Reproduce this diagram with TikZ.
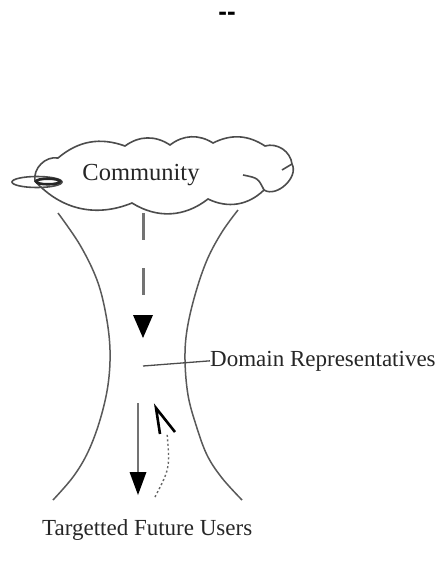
\documentclass[tikz,border=0pt]{standalone}
\usepackage{fontspec}
\setmainfont{Liberation Serif}
\newfontfamily\headsans{Liberation Sans}
\begin{document}
\begin{tikzpicture}[x=1pt,y=-1pt,
  lbl/.style={text=black!85, inner sep=0pt, font=\fontsize{23}{27}\selectfont},
  outl/.style={draw=black!70, line width=1.6pt},
  funnel/.style={draw=black!65, line width=1.5pt},
  ahead/.style={fill=black}]
\useasboundingbox (0,0) rectangle (438,562);
\fill[white] (0,0) rectangle (438,562);
% top mark
\node[anchor=base, inner sep=0pt] (mark) at (227,20) {\headsans\bfseries\fontsize{26}{30}\selectfont -{}-};
% cloud
\coordinate (c0) at (35,181);
\coordinate (c1) at (58,158);
\coordinate (c2) at (125,146);
\coordinate (c3) at (170,145);
\coordinate (c4) at (213,143);
\coordinate (c5) at (265,146);
\coordinate (c6) at (292,164);
\coordinate (c7) at (264,190);
\coordinate (c8) at (208,199);
\coordinate (c9) at (132,203);
\draw[outl] (c0) to[bend left=55] (c1) to[bend left=30] (c2) to[bend left=35] (c3)
  to[bend left=35] (c4) to[bend left=30] (c5) to[bend left=50] (c6)
  to[bend left=75] (c7) to[bend left=35] (c8) to[bend left=35] (c9)
  to[bend left=35] cycle;
\draw[outl] (243,175) .. controls (258,178) .. (264,190);
\draw[outl] (282,170) -- (292,164);
% eye ellipse
\draw[outl] (37,182) ellipse [x radius=25, y radius=5.5];
\draw[draw=black!85, line width=2.6pt] (48,181.5) ellipse [x radius=12, y radius=2.8];
\node[lbl, font=\fontsize{24.5}{28}\selectfont] (community) at (141,175) {Community};
% funnel
\draw[funnel] plot[smooth, tension=0.6] coordinates {(58,213) (80,245) (97,280) (106,315) (110,350) (108,385) (100,420) (88,452) (73,477) (53,500)};
\draw[funnel] plot[smooth, tension=0.6] coordinates {(238,210) (222,232) (207,260) (195,295) (187,330) (185,360) (188,395) (196,425) (207,455) (222,478) (242,500)};
% dashed arrow
\coordinate (dtop) at (143,213);
\coordinate (dend) at (143,315);
\draw[draw=black!55, line width=3pt, dash pattern=on 27pt off 28pt] (dtop) -- (dend);
\fill[ahead] (133,315) -- (153,315) -- (143,338) -- cycle;
% domain representatives
\node[lbl, anchor=base west] (domain) at (210,366) {Domain Representatives};
\coordinate (dptr) at (143,366);
\draw[draw=black!70, line width=1.3pt] (dptr) -- (domain.west);
% solid arrow
\coordinate (stop) at (138,403);
\coordinate (sbot) at (138,473);
\draw[draw=black!55, line width=2.5pt] (stop) -- (sbot);
\fill[ahead] (129.5,472) -- (146.5,472) -- (138,495) -- cycle;
% dotted return arrow
\coordinate (rs) at (155,497);
\coordinate (re) at (167,433);
\coordinate (rtip) at (156,408);
\draw[draw=black!60, line width=1.4pt, dash pattern=on 2pt off 2.5pt] (rs) .. controls (170,468) .. (re);
\draw[black, line width=2.6pt, line join=miter] (160,434) -- (rtip) -- (175,432);
% bottom label
\node[lbl, anchor=base west] (users) at (42,535) {Targetted Future Users};
\end{tikzpicture}
\end{document}
